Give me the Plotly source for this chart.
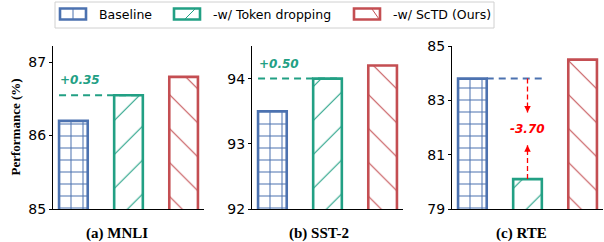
import plotly.graph_objects as go

# ---- data ----
methods = ["Baseline", "-w/ Token dropping", "-w/ ScTD (Ours)"]
tasks = ["(a) MNLI", "(b) SST-2", "(c) RTE"]
mnli = [86.2, 86.55, 86.8]
sst2 = [93.5, 94.0, 94.2]
rte = [83.8, 80.1, 84.5]
y_ranges = [[85, 87.22], [92, 94.5], [79, 85]]
y_ticks = [[85, 86, 87], [92, 93, 94], [79, 81, 83, 85]]

# ---- style ----
W, H = 604, 242
ML, MR, MT, MB = 53, 1, 46, 33
PW, PH = W - ML - MR, H - MT - MB
colors = ["#4C72B0", "#22A084", "#C44E52"]
shapes_pat = ["+", "/", "\\"]
pat_size = [12, 24, 24]
pat_sol = [0.16, 0.045, 0.045]
bar_w = 0.52
tick_font = dict(family="DejaVu Sans", size=14, color="black")
serif_bold = "Liberation Serif"


def px_x(x):
    return (x - ML) / PW


def px_y(y):
    return (H - MB - y) / PH


domains = [[px_x(53), px_x(204)], [px_x(252), px_x(403)], [px_x(452), px_x(603)]]

fig = go.Figure()
all_vals = [mnli, sst2, rte]
for p, vals in enumerate(all_vals):
    xa = "x" if p == 0 else f"x{p+1}"
    ya = "y" if p == 0 else f"y{p+1}"
    for m in range(3):
        fig.add_trace(go.Bar(
            x=[m], y=[vals[m]], width=bar_w, xaxis=xa, yaxis=ya,
            name=methods[m], showlegend=False, hoverinfo="skip",
            marker=dict(color="white",
                        line=dict(color=colors[m], width=2.6),
                        pattern=dict(shape=shapes_pat[m], fgcolor=colors[m], bgcolor="white",
                                     size=pat_size[m], solidity=pat_sol[m], fillmode="replace")),
        ))

layout = dict(width=W, height=H, margin=dict(l=ML, r=MR, t=MT, b=MB),
              paper_bgcolor="white", plot_bgcolor="white", barmode="overlay")
for p in range(3):
    sfx = "" if p == 0 else str(p + 1)
    layout["xaxis" + sfx] = dict(domain=domains[p], range=[-0.37, 2.37], showticklabels=False,
                                 ticks="", showline=True, linecolor="black", linewidth=1,
                                 showgrid=False, zeroline=False, anchor="y" + sfx, fixedrange=True)
    layout["yaxis" + sfx] = dict(range=y_ranges[p], tickvals=y_ticks[p], ticks="outside", ticklen=3,
                                 tickwidth=1, tickcolor="black", showline=True, linecolor="black",
                                 linewidth=1, showgrid=False, zeroline=False, tickfont=tick_font,
                                 anchor="x" + sfx, fixedrange=True)
fig.update_layout(**layout)

shapes = []
annotations = []

# gain lines for MNLI and SST-2
for p in range(2):
    vals = all_vals[p]
    xr = "x" if p == 0 else f"x{p+1}"
    yr = "y" if p == 0 else f"y{p+1}"
    shapes.append(dict(type="line", xref=xr, yref=yr, x0=-bar_w / 2, x1=1 + bar_w / 2,
                       y0=vals[1], y1=vals[1], line=dict(color=colors[1], width=2, dash="7px,5px")))
    annotations.append(dict(xref=xr, yref=yr, x=-bar_w / 2 - 0.02, y=vals[1], yshift=15,
                            xanchor="left", yanchor="middle", showarrow=False,
                            text=f"<b><i>{vals[1]-vals[0]:+.2f}</i></b>",
                            font=dict(family="DejaVu Sans", size=12, color=colors[1])))

# RTE drop
b, t = rte[0], rte[1]
mid = (b + t) / 2
gap = 0.6
shapes.append(dict(type="line", xref="x3", yref="y3", x0=bar_w / 2, x1=1 + bar_w / 2,
                   y0=b, y1=b, line=dict(color=colors[0], width=2, dash="7px,5px")))
shapes.append(dict(type="line", xref="x3", yref="y3", x0=1, x1=1, y0=b, y1=mid + gap,
                   line=dict(color="red", width=1.3, dash="5px,3px")))
shapes.append(dict(type="line", xref="x3", yref="y3", x0=1, x1=1, y0=t, y1=mid - gap,
                   line=dict(color="red", width=1.3, dash="5px,3px")))
annotations.append(dict(xref="x3", yref="y3", x=1, y=mid + gap, ax=0, ay=-7, text="",
                        showarrow=True, arrowhead=2, arrowsize=1, arrowwidth=1.3, arrowcolor="red"))
annotations.append(dict(xref="x3", yref="y3", x=1, y=mid - gap, ax=0, ay=7, text="",
                        showarrow=True, arrowhead=2, arrowsize=1, arrowwidth=1.3, arrowcolor="red"))
annotations.append(dict(xref="x3", yref="y3", x=1, y=mid, showarrow=False,
                        text=f"<b><i>{t-b:+.2f}</i></b>",
                        font=dict(family="DejaVu Sans", size=12, color="red")))

# subplot titles
title_px = [116.5, 319, 521.5]
for p in range(3):
    annotations.append(dict(xref="paper", yref="paper", x=px_x(title_px[p]), y=px_y(233),
                            xanchor="center", yanchor="middle", showarrow=False,
                            text=f"<b>{tasks[p]}</b>",
                            font=dict(family=serif_bold, size=15, color="black")))

# y-axis title
annotations.append(dict(xref="paper", yref="paper", x=px_x(15), y=px_y(127.5), textangle=-90,
                        xanchor="center", yanchor="middle", showarrow=False,
                        text="<b>Performance (%)</b>",
                        font=dict(family=serif_bold, size=13, color="black")))

# legend
shapes.append(dict(type="rect", xref="paper", yref="paper", x0=px_x(55), x1=px_x(494),
                   y0=px_y(28), y1=px_y(2), line=dict(color="#d0d0d0", width=1), fillcolor="white"))
patch_x = [59, 173, 353]
text_x = [97, 211, 391]
for m in range(3):
    px0 = patch_x[m]
    shapes.append(dict(type="rect", xref="paper", yref="paper", x0=px_x(px0 + 1),
                       x1=px_x(px0 + 27), y0=px_y(19.5), y1=px_y(8.5),
                       line=dict(color=colors[m], width=2.6), fillcolor="white"))
    annotations.append(dict(xref="paper", yref="paper", x=px_x(text_x[m]), y=px_y(14.5),
                            xanchor="left", yanchor="middle", showarrow=False, text=methods[m],
                            font=dict(family="DejaVu Sans", size=12.5, color="black")))
# hatch hints inside legend patches
shapes.append(dict(type="line", xref="paper", yref="paper", x0=px_x(patch_x[0] + 14),
                   x1=px_x(patch_x[0] + 14), y0=px_y(19), y1=px_y(9),
                   line=dict(color=colors[0], width=1)))
shapes.append(dict(type="line", xref="paper", yref="paper", x0=px_x(patch_x[1] + 12),
                   x1=px_x(patch_x[1] + 22), y0=px_y(19), y1=px_y(9),
                   line=dict(color=colors[1], width=1)))
shapes.append(dict(type="line", xref="paper", yref="paper", x0=px_x(patch_x[2] + 19),
                   x1=px_x(patch_x[2] + 26), y0=px_y(9), y1=px_y(19),
                   line=dict(color=colors[2], width=1)))

fig.update_layout(shapes=shapes, annotations=annotations)
fig.write_html("out.html", post_script="document.body.style.margin='0';",
               config={"displayModeBar": False})
